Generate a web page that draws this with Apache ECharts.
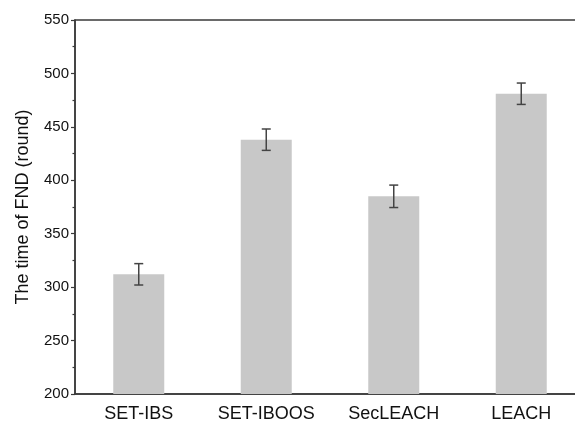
<!DOCTYPE html>
<html>
<head>
<meta charset="utf-8">
<script src="https://cdn.jsdelivr.net/npm/echarts@6/dist/echarts.min.js"></script>
<style>html,body{margin:0;padding:0;background:#fff;overflow:hidden}#c{width:590px;height:426px}</style>
</head>
<body>
<div id="c"></div>
<script>
var categories = ['SET-IBS', 'SET-IBOOS', 'SecLEACH', 'LEACH'];
var fndValues = [312, 438, 385, 481];
var fndErrors = [10, 10, 10.5, 10];
var yTicks = {min: 200, max: 550, interval: 50};

var errData = categories.map(function (c, i) {
  return [i, fndValues[i] - fndErrors[i], fndValues[i] + fndErrors[i]];
});

var chart = echarts.init(document.getElementById('c'), null, {renderer: 'canvas'});
var axisColor = '#3a3a3a';
var font = 'Liberation Sans, Arial, Helvetica, sans-serif';
chart.setOption({
  animation: false,
  grid: {left: 75, top: 20, bottom: 32, width: 510, show: true, borderColor: axisColor, borderWidth: 1.5, backgroundColor: 'transparent'},
  xAxis: [{
    type: 'category', data: categories, position: 'bottom',
    axisLine: {lineStyle: {color: axisColor, width: 1.5}},
    axisTick: {alignWithLabel: true, length: 5, lineStyle: {color: axisColor, width: 1.2}},
    axisLabel: {color: '#111', fontSize: 18, fontFamily: font, margin: 11}
  }, {
    type: 'category', data: categories, position: 'bottom',
    axisLine: {show: false},
    axisTick: {length: 3, lineStyle: {color: axisColor, width: 1.2}},
    axisLabel: {show: false}
  }],
  yAxis: {
    type: 'value', min: yTicks.min, max: yTicks.max, interval: yTicks.interval,
    name: 'The time of FND (round)', nameLocation: 'middle', nameGap: 43,
    nameTextStyle: {color: '#111', fontSize: 18, fontFamily: font},
    axisLine: {show: true, lineStyle: {color: axisColor, width: 1.5}},
    axisTick: {show: true, length: 4, lineStyle: {color: axisColor, width: 1.2}},
    minorTick: {show: true, splitNumber: 2, length: 2.5, lineStyle: {color: axisColor, width: 1.2}},
    splitLine: {show: false},
    axisLabel: {color: '#111', fontSize: 15, fontFamily: font, margin: 6}
  },
  series: [{
    type: 'bar', data: fndValues, barWidth: '40%', xAxisIndex: 0,
    itemStyle: {color: '#c8c8c8'}
  }, {
    type: 'custom', xAxisIndex: 0, data: errData, z: 10,
    renderItem: function (params, api) {
      var x = api.value(0);
      var lo = api.coord([x, api.value(1)]);
      var hi = api.coord([x, api.value(2)]);
      var hw = 4.5;
      var st = {stroke: '#444', lineWidth: 1.5};
      return {type: 'group', children: [
        {type: 'line', shape: {x1: lo[0], y1: lo[1], x2: hi[0], y2: hi[1]}, style: st},
        {type: 'line', shape: {x1: hi[0] - hw, y1: hi[1], x2: hi[0] + hw, y2: hi[1]}, style: st},
        {type: 'line', shape: {x1: lo[0] - hw, y1: lo[1], x2: lo[0] + hw, y2: lo[1]}, style: st}
      ]};
    }
  }]
});
</script>
</body>
</html>
